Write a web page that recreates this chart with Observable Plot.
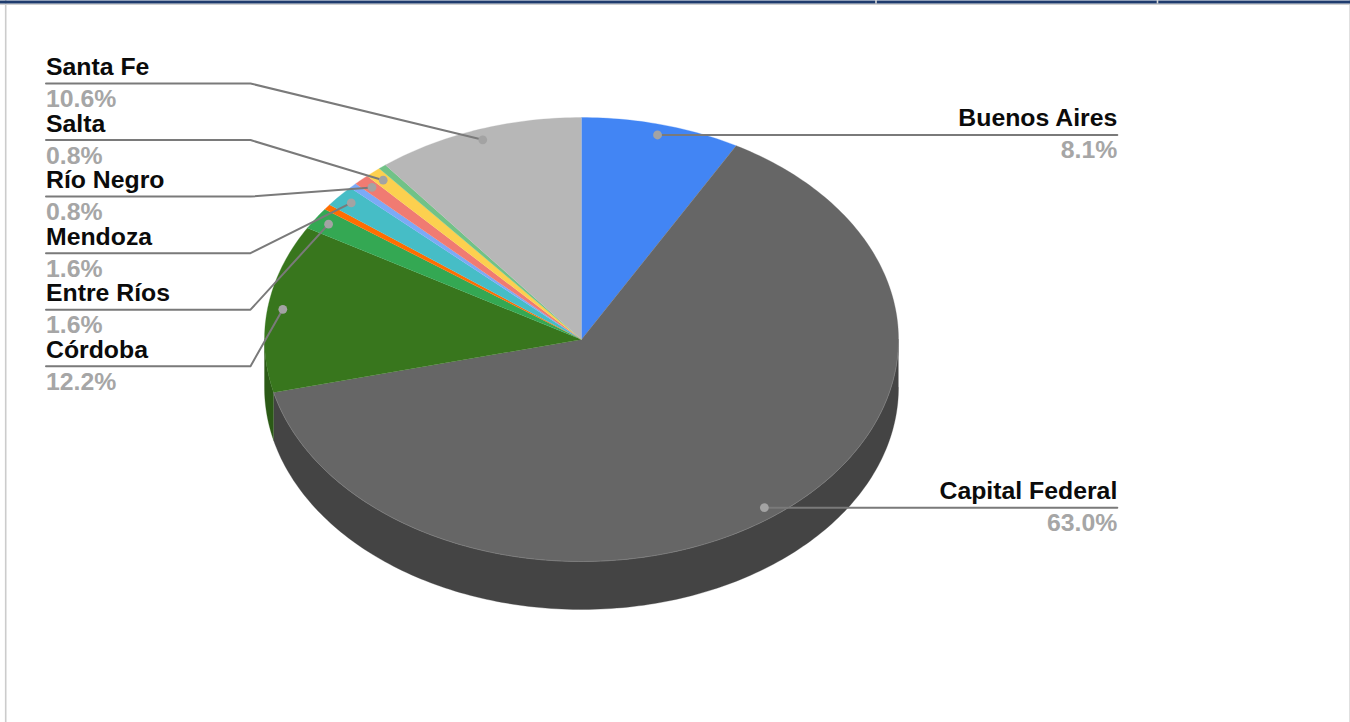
<!DOCTYPE html>
<html>
<head>
<meta charset="utf-8">
<script src="https://cdn.jsdelivr.net/npm/d3@7"></script>
<script src="https://cdn.jsdelivr.net/npm/@observablehq/plot@0.6"></script>
<style>html,body{margin:0;padding:0;background:#fff}svg{display:block}</style>
</head>
<body>
<div id="chart"></div>
<script>
// Slices clockwise from twelve o'clock; three thin slices carry no label in the picture.
const categories = ["Buenos Aires","Capital Federal","Córdoba","Entre Ríos",null,"Mendoza",null,"Río Negro","Salta",null,"Santa Fe"];
const values = [8.1,63.0,12.2,1.6,0.4,1.6,0.4,0.8,0.8,0.4,10.6];
const colors = ["#4285f4","#666666","#38761d","#34a853","#ff6d01","#46bdc6","#7baaf7","#f07b72","#fcd04f","#71c287","#b7b7b7"];
const sideColors = ["#2f5f8f","#444444","#2b5a16","#287f40","#c05200","#358e95","#5d80ba","#b55d56","#bea04a","#558f66","#898989"];

const W = 1350, H = 722;
const pie = {cx:581, cy:339, rx:317, ry:222, depth:48, dotR:0.952};
const leftCol = {x:45.5, elbow:250, top:83, step:56.55};
const rightCol = {x:1116.8};
const textFont = "Liberation Sans, Arial, sans-serif";

const ex = (a,r=1) => pie.cx + pie.rx*r*Math.sin(a);
const ey = (a,r=1) => pie.cy - pie.ry*r*Math.cos(a);
const arcs = d3.pie().sort(null)(values);
const arcAngles = (s,e) => {
  const n = Math.max(2, Math.ceil((e-s)/(Math.PI/180)));
  return d3.range(n+1).map(i => s+(e-s)*i/n);
};

// top faces
const tops = arcs.flatMap((d,i) => [
  {i, x:pie.cx, y:pie.cy, c:colors[i]},
  ...arcAngles(d.startAngle,d.endAngle).map(a => ({i, x:ex(a), y:ey(a), c:colors[i]}))
]);
// extruded rim: lower half only
const sides = arcs.flatMap((d,i) => {
  const s = Math.max(d.startAngle, Math.PI/2), e = Math.min(d.endAngle, 3*Math.PI/2);
  if (e <= s) return [];
  const as = arcAngles(s,e);
  return [
    ...as.map(a => ({i, x:ex(a), y:ey(a), c:sideColors[i]})),
    ...as.slice().reverse().map(a => ({i, x:ex(a), y:ey(a)+pie.depth, c:sideColors[i]}))
  ];
});
const rim = arcAngles(Math.PI/2, arcs[1].endAngle).map(a => ({x:ex(a), y:ey(a)}));

// labels and leaders: the left column runs top to bottom against the slice order
const labelled = arcs.map((d,i) => ({d,i})).filter(o => categories[o.i]);
const leftOnes = labelled.filter(o => (o.d.startAngle+o.d.endAngle)/2 > Math.PI).reverse();
const labels = labelled.map(({d,i}) => {
  const mid = (d.startAngle+d.endAngle)/2;
  const dx = ex(mid,pie.dotR), dy = ey(mid,pie.dotR);
  const left = mid > Math.PI;
  const ly = left ? leftCol.top + leftCol.step*leftOnes.findIndex(o => o.i===i) : dy;
  return {i, name:categories[i], pct:d3.format(".1f")(values[i])+"%", dx, dy, left, ly, tx:left?leftCol.x:rightCol.x};
});
const leaders = labels.flatMap(l => l.left
  ? [{i:l.i,x:l.dx,y:l.dy},{i:l.i,x:leftCol.elbow,y:l.ly},{i:l.i,x:l.tx,y:l.ly}]
  : [{i:l.i,x:l.dx,y:l.dy},{i:l.i,x:l.tx,y:l.ly}]);

const textMark = (data, anchor) => [
  Plot.text(data,{x:"tx",y:d=>d.ly-8.5,text:"name",textAnchor:anchor,lineAnchor:"bottom",fill:"#0b0b0b",fontWeight:"bold",fontSize:24.8,fontFamily:textFont}),
  Plot.text(data,{x:"tx",y:d=>d.ly+23.5,text:"pct",textAnchor:anchor,lineAnchor:"bottom",fill:"#a6a6a6",fontWeight:"bold",fontSize:24.8,fontFamily:textFont})
];

const chart = Plot.plot({
  width:W, height:H, margin:0,
  x:{domain:[0,W], range:[0,W], axis:null},
  y:{domain:[0,H], range:[0,H], axis:null},
  color:{type:"identity"},
  style:{background:"#fff"},
  marks:[
    // page frame
    Plot.ruleX([5.2],{stroke:"#cccccc",strokeWidth:1.6}),
    Plot.ruleX([1349.5],{stroke:"#cccccc",strokeWidth:1.2}),
    Plot.ruleY([3.8],{stroke:"#d0d0d0",strokeWidth:1.4}),
    Plot.ruleY([1.5],{stroke:"#1f3c6e",strokeWidth:3}),
    Plot.ruleX([875.5,1157],{y1:0,y2:3.5,stroke:"#d8d8d8",strokeWidth:1.6}),
    // pie
    Plot.line(sides,{x:"x",y:"y",z:"i",fill:"c",stroke:"c",strokeWidth:0.3,curve:"linear"}),
    Plot.line(tops,{x:"x",y:"y",z:"i",fill:"c",stroke:"c",strokeWidth:0.3,curve:"linear"}),
    Plot.line(rim,{x:"x",y:"y",stroke:"#808080",strokeWidth:1,strokeOpacity:0.7,curve:"linear"}),
    // leaders
    Plot.line(leaders,{x:"x",y:"y",z:"i",stroke:"#7a7a7a",strokeWidth:2,curve:"linear",strokeLinejoin:"round"}),
    Plot.dot(labels,{x:"dx",y:"dy",r:4.4,fill:"#a3a3a3",stroke:"none"}),
    ...textMark(labels.filter(d=>d.left),"start"),
    ...textMark(labels.filter(d=>!d.left),"end")
  ]
});
document.getElementById("chart").append(chart);
</script>
</body>
</html>
